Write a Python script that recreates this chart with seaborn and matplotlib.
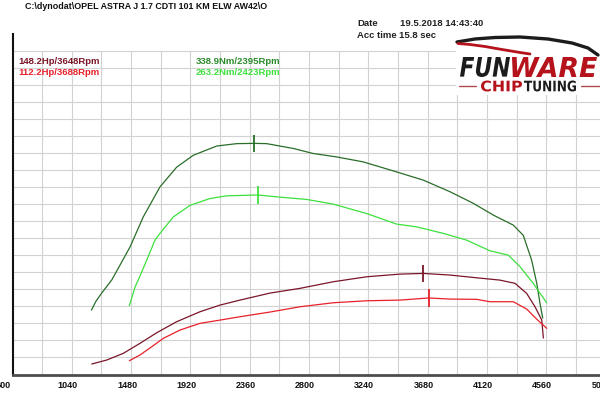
import matplotlib
matplotlib.use("Agg")  # no display in the sandbox

import seaborn as sns
import matplotlib.pyplot as plt
from matplotlib.textpath import TextPath
from matplotlib.patches import PathPatch, Rectangle
from matplotlib.font_manager import FontProperties
from matplotlib.transforms import Affine2D, ScaledTranslation
from matplotlib.lines import Line2D

# Dyno curves (rpm / Nm or Hp)
tuned_torque_rpm = [1186, 1220, 1264, 1336, 1398, 1472, 1570, 1694, 1818, 1942, 2115, 2264, 2395,
                    2486, 2684, 2832, 3006, 3203, 3451, 3648, 3846, 4019, 4168, 4316, 4390, 4452,
                    4490, 4514, 4534]
tuned_torque_nm = [94.5, 107.7, 120, 138.5, 160.5, 187, 231, 275, 304, 321.5, 335, 338.5, 338.9,
                   338.5, 331.4, 324, 319, 311.7, 297, 285, 268, 251, 233.7, 219, 204, 167.7,
                   133.6, 104.3, 82.8]

stock_torque_rpm = [1467, 1509, 1559, 1596, 1657, 1694, 1793, 1917, 2065, 2189, 2423, 2560, 2783,
                    2980, 3228, 3451, 3599, 3797, 3970, 4143, 4279, 4366, 4464, 4564]
stock_torque_nm = [101, 128, 150.5, 167.7, 197, 206.9, 231, 248, 258, 262, 263.2, 260.5, 256.7,
                   249.8, 236, 220.5, 216.5, 206.9, 197, 181.4, 175, 158, 133.6, 105]

tuned_power_rpm = [1188, 1299, 1422, 1546, 1670, 1818, 1991, 2140, 2288, 2511, 2733, 2980, 3228,
                   3475, 3648, 3846, 4044, 4217, 4329, 4415, 4477, 4527, 4539]
tuned_power_hp = [15.4, 21.2, 31, 45.7, 61.2, 77.4, 92, 101.8, 109.1, 119.4, 126.3, 136, 143.3,
                  147.2, 148.2, 145.8, 141.8, 138.4, 133.6, 119, 99.3, 79.8, 53.5]

stock_power_rpm = [1467, 1546, 1633, 1719, 1843, 1991, 2140, 2288, 2511, 2733, 2980, 3228, 3475,
                   3688, 3846, 4044, 4143, 4316, 4415, 4489, 4564]
stock_power_hp = [20.2, 28.6, 40.7, 53, 65.2, 75, 79.8, 84.7, 91.6, 99.3, 105.2, 108.1, 109.1,
                  112.2, 110.6, 110.2, 106.7, 106.7, 96, 81.3, 67.7]

# Peak values shown in the legend and as tick marks on the curves
peak_rpm = [3648, 3688, 2395, 2423]
peak_val = [148.2, 112.2, 338.9, 263.2]
peak_unit = ["Hp", "Hp", "Nm", "Nm"]

x_labels = [600, 1040, 1480, 1920, 2360, 2800, 3240, 3680, 4120, 4560, 5000]

title_text = "C:\\dynodat\\OPEL ASTRA J 1.7 CDTI 101 KM ELW AW42\\O"
date_text = "19.5.2018 14:43:40"
acc_text = "15.8 sec"

DARK_RED = "#7a1628"
RED = "#e8202a"
DARK_GREEN = "#2a6e2a"
LIGHT_GREEN = "#3de03d"

sns.set_theme(style="white")
plt.rcParams["font.family"] = ["Liberation Sans", "DejaVu Sans"]

fig = plt.figure(figsize=(6, 4), dpi=100)
ax = fig.add_axes([12.5 / 600, 25.5 / 400, 593 / 600, 341 / 400])
ax.set_xlim(600, 5000)
ax.set_ylim(0, 500)

# grid stops one step below the top of the axis
ax.vlines(list(range(820, 5001, 220)), 0, 475, color="#d2d2d2", lw=0.8, zorder=0)
ax.hlines(list(range(25, 476, 25)), 600, 5000, color="#d2d2d2", lw=0.8, zorder=0)

curves = [
    (tuned_torque_rpm, tuned_torque_nm, DARK_GREEN),
    (stock_torque_rpm, stock_torque_nm, LIGHT_GREEN),
    (tuned_power_rpm, tuned_power_hp, DARK_RED),
    (stock_power_rpm, stock_power_hp, RED),
]
for xs, ys, col in curves:
    sns.lineplot(x=xs, y=ys, color=col, lw=0.9, estimator=None, sort=False, ax=ax,
                 solid_joinstyle="round")

peak_colors = [DARK_RED, RED, DARK_GREEN, LIGHT_GREEN]
for r, v, col in zip(peak_rpm, peak_val, peak_colors):
    ax.vlines(r, v - 13, v + 13, color=col, lw=1.3)

# axis styling
for s in ["top", "right"]:
    ax.spines[s].set_visible(False)
ax.spines["left"].set_color("#111111")
ax.spines["left"].set_linewidth(1.5)
ax.spines["bottom"].set_color("#4d4d4d")
ax.spines["bottom"].set_linewidth(2)
ax.set_yticks([])
ax.set_xticks(x_labels)
ax.set_xticklabels([str(v) for v in x_labels])
ax.set_xticks(list(range(820, 5000, 440)), minor=True)
ax.tick_params(axis="x", which="major", length=0, pad=5, labelsize=6.5, labelcolor="#111111")
ax.tick_params(axis="x", which="minor", length=4, width=1.3, color="#4d4d4d", direction="out")
for i, lab in enumerate(ax.get_xticklabels()):
    lab.set_fontweight("bold")
    shift = -9 if i == 0 else -4  # first label sits half off the left edge
    lab.set_transform(lab.get_transform() + ScaledTranslation(shift / 100, 0, fig.dpi_scale_trans))


def px(x, y):
    # pixel position in the 600x400 picture -> figure fraction
    return x / 600, 1 - y / 400


fig.text(*px(25, 6.5), title_text, fontsize=6.4, fontweight="bold", color="#111111", va="center")
fig.text(*px(357, 23), "Date", fontsize=6.8, fontweight="bold", color="#222222", va="center")
fig.text(*px(400, 23), date_text, fontsize=6.8, fontweight="bold", color="#222222", va="center")
fig.text(*px(357, 35), "Acc time", fontsize=6.8, fontweight="bold", color="#222222", va="center")
fig.text(*px(399, 35), acc_text, fontsize=6.8, fontweight="bold", color="#222222", va="center")

legend_pos = [(18, 61.5), (18, 72.5), (196, 61.5), (196, 72.5)]
legend_colors = [DARK_RED, RED, "#2a8a2a", LIGHT_GREEN]
for (lx, ly), r, v, u, col in zip(legend_pos, peak_rpm, peak_val, peak_unit, legend_colors):
    fig.text(*px(lx, ly), f"{v}{u}/{r}Rpm", fontsize=6.8, fontweight="bold", color=col, va="center")

# logo block (white box hides the grid behind it)
fig.patches.append(Rectangle(px(456, 95), 146 / 600, 60 / 400, transform=fig.transFigure,
                             facecolor="white", edgecolor="none", zorder=2))


def fit_text(s, x0, y0, x1, y1, color, style="italic"):
    fp = FontProperties(family="DejaVu Sans", weight="bold", style=style)
    tp = TextPath((0, 0), s, size=10, prop=fp)
    ext = tp.get_extents()
    tr = (Affine2D().translate(-ext.x0, -ext.y0)
          .scale((x1 - x0) / ext.width / 600, (y1 - y0) / ext.height / 400)
          .translate(x0 / 600, 1 - y1 / 400) + fig.transFigure)
    fig.patches.append(PathPatch(tp, facecolor=color, edgecolor="none", transform=tr, zorder=3))


fit_text("FUN", 460, 57, 510, 77, "#1c1c1c")
fit_text("WARE", 512, 57, 597, 77, "#b5121b")
fit_text("CHIP", 481, 80.5, 522, 91.5, "#b5121b", style="normal")
fit_text("TUNING", 524, 80.5, 576, 91.5, "#1c1c1c", style="normal")

for xs, ys, col, w in [
    ([459, 476], [86, 86], "#b04a50", 1.0),
    ([581, 600], [86, 86], "#b04a50", 1.0),
    ([457, 475, 495, 520, 548, 572, 588, 598], [42, 39, 37.5, 37, 39, 43, 48, 55], "#1c1c1c", 2.4),
    ([458, 470, 485, 502, 520, 530], [43.5, 44.5, 46.5, 49.5, 52.5, 54], "#b5121b", 2.0),
]:
    fx = [x / 600 for x in xs]
    fy = [1 - y / 400 for y in ys]
    fig.lines.append(Line2D(fx, fy, color=col, lw=w, transform=fig.transFigure, zorder=3,
                            solid_capstyle="round", solid_joinstyle="round"))

fig.savefig("out.png", dpi=100)
